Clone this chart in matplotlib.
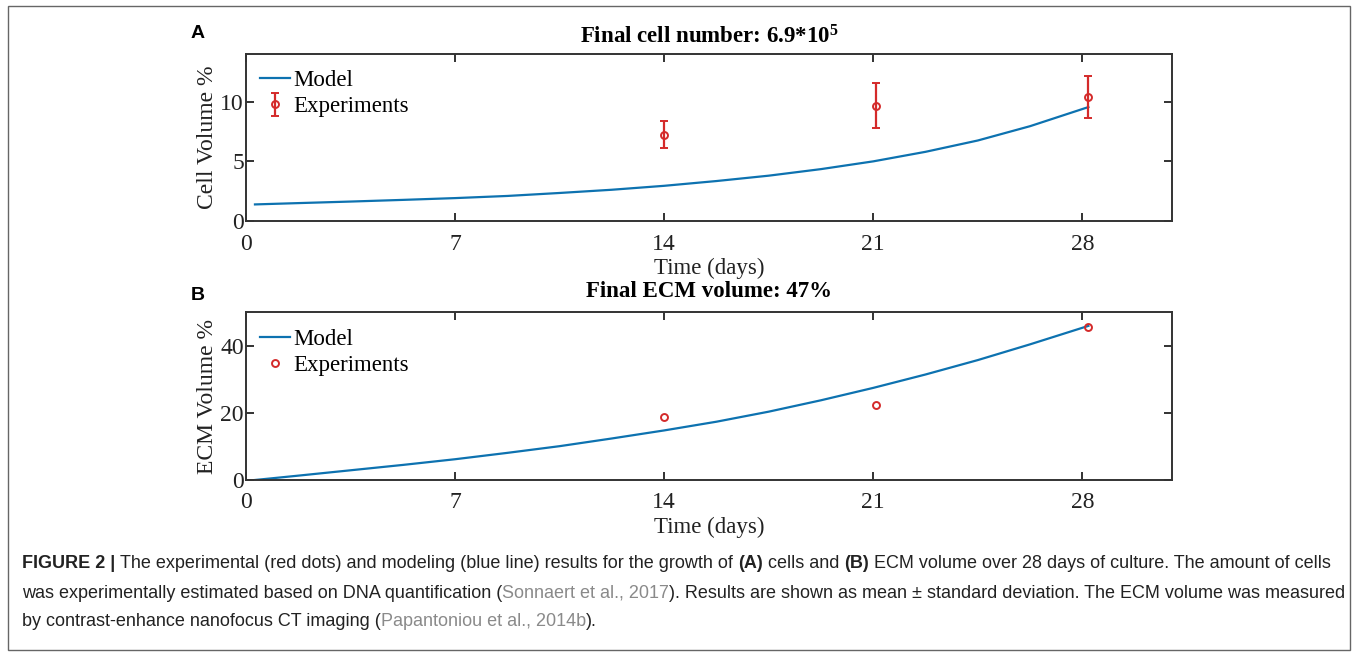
import matplotlib
matplotlib.use("Agg")
import matplotlib.pyplot as plt
from matplotlib.patches import Rectangle

# ---------------- data ----------------
model_days = [0.3, 1.75, 3.5, 5.25, 7, 8.75, 10.5, 12.25, 14, 15.75, 17.5, 19.25, 21, 22.75, 24.5, 26.25, 28.2]
cell_model = [1.39, 1.50, 1.63, 1.77, 1.92, 2.10, 2.35, 2.62, 2.95, 3.35, 3.80, 4.35, 5.00, 5.80, 6.75, 7.95, 9.55]
ecm_model = [0.0, 1.3, 2.9, 4.5, 6.2, 8.1, 10.1, 12.4, 14.8, 17.4, 20.4, 23.8, 27.5, 31.5, 35.8, 40.5, 46.0]

exp_days = [14.0, 21.1, 28.2]
cell_exp = [7.24, 9.64, 10.42]
cell_err_low = [6.10, 7.80, 8.66]
cell_err_high = [8.38, 11.56, 12.14]
ecm_exp = [18.8, 22.4, 45.6]

x_ticks = [0, 7, 14, 21, 28]
cell_yticks = [0, 5, 10]
ecm_yticks = [0, 20, 40]

title_a = r"Final cell number: 6.9*10$^{\mathbf{5}}$"
title_b = "Final ECM volume: 47%"

# ---------------- style ----------------
plt.rcParams.update({
    "font.family": ["Liberation Serif", "DejaVu Serif"],
    "mathtext.fontset": "custom",
    "mathtext.rm": "Liberation Serif",
    "mathtext.bf": "Liberation Serif:bold",
    "mathtext.it": "Liberation Serif:italic",
})

W, H = 1358, 656
fig = plt.figure(figsize=(W / 100, H / 100), dpi=100)

blue = "#0d72b0"
red = "#d42a2a"
spine_c = "#333333"
txt_c = "#222222"


def fx(px):
    return px / W


def fy(py):
    return 1 - py / H


left, right = 246, 1172
ax_w = right - left


def style_axes(ax, yticks, ylim):
    ax.set_xlim(0, 31)
    ax.set_ylim(*ylim)
    ax.set_xticks(x_ticks)
    ax.set_yticks(yticks)
    ax.tick_params(direction="in", length=6, width=1.3, top=True, right=True,
                   labelsize=17, colors=txt_c)
    ax.tick_params(axis="x", pad=9)
    ax.tick_params(axis="y", pad=1.5)
    for s in ax.spines.values():
        s.set_linewidth(1.4)
        s.set_color(spine_c)
    ax.set_xlabel("Time (days)", fontsize=16.5, color=txt_c, labelpad=2.5)


def add_legend(ax, handles, ax_h):
    ax.legend(handles=handles, loc="upper left", frameon=False, fontsize=16.5,
              handlelength=1.3, handletextpad=0.17, borderaxespad=0,
              borderpad=0, labelspacing=0.22,
              bbox_to_anchor=(14 / ax_w, 1 - 16 / ax_h))


# Panel A
a_top, a_bot = 54, 221
axA = fig.add_axes([fx(left), fy(a_bot), fx(ax_w), (a_bot - a_top) / H])
lineA, = axA.plot(model_days, cell_model, color=blue, lw=1.6, label="Model")
yerr = [[c - l for c, l in zip(cell_exp, cell_err_low)],
        [h - c for c, h in zip(cell_exp, cell_err_high)]]
ebA = axA.errorbar(exp_days, cell_exp, yerr=yerr, fmt="o", color=red, ms=5,
                   mfc="none", mew=1.4, elinewidth=1.6, capsize=3, capthick=1.4,
                   label="Experiments")
style_axes(axA, cell_yticks, (0, 14))
axA.set_ylabel("Cell Volume %", fontsize=17, color=txt_c, labelpad=2)
axA.set_title(title_a, fontsize=16.5, fontweight="bold", pad=7.5)
add_legend(axA, [lineA, ebA], a_bot - a_top)

# Panel B
b_top, b_bot = 312.5, 480
axB = fig.add_axes([fx(left), fy(b_bot), fx(ax_w), (b_bot - b_top) / H])
lineB, = axB.plot(model_days, ecm_model, color=blue, lw=1.6, label="Model")
ptsB, = axB.plot(exp_days, ecm_exp, "o", color=red, ms=5, mfc="none", mew=1.4,
                 label="Experiments")
style_axes(axB, ecm_yticks, (0, 50))
axB.set_ylabel("ECM Volume %", fontsize=17, color=txt_c, labelpad=2)
axB.set_title(title_b, fontsize=16.5, fontweight="bold", pad=11.5)
add_legend(axB, [lineB, ptsB], b_bot - b_top)

# Panel letters
fig.text(fx(191), fy(33), "A", family="Liberation Sans", fontweight="bold",
         fontsize=14, va="center", ha="left")
fig.text(fx(191), fy(295), "B", family="Liberation Sans", fontweight="bold",
         fontsize=14, va="center", ha="left")

# Border frame
fig.patches.append(Rectangle((fx(8), fy(650)), fx(1350 - 8), (650 - 6) / H,
                             transform=fig.transFigure, fill=False,
                             edgecolor="#666666", lw=1.0))

# Caption with mixed styles
renderer = fig.canvas.get_renderer()
cap_fs = 13.0
gray = "#8a8a8a"
N = {"family": "Liberation Sans", "fontsize": cap_fs, "color": "#222222"}
Bd = dict(N, fontweight="bold")
Gr = dict(N, color=gray)

caption_lines = [
    [("FIGURE 2 |", Bd), ("The experimental (red dots) and modeling (blue line) results for the growth of", N),
     ("(A)", Bd), ("cells and", N), ("(B)", Bd),
     ("ECM volume over 28 days of culture. The amount of cells", N)],
    [("was experimentally estimated based on DNA quantification (", N), ("Sonnaert et al., 2017", Gr),
     ("). Results are shown as mean \u00b1 standard deviation. The ECM volume was measured", N)],
    [("by contrast-enhance nanofocus CT imaging (", N), ("Papantoniou et al., 2014b", Gr), (").", N)],
]
space_after = [
    [True, True, True, True, True, False],
    [False, False, False],
    [False, False, False],
]
cap_y = [563, 593, 621]

tmp = fig.text(0, 0, "a a", **N)
w1 = tmp.get_window_extent(renderer).width
tmp.set_text("aa")
w2 = tmp.get_window_extent(renderer).width
tmp.remove()
space_w = w1 - w2

for line, sp, yy in zip(caption_lines, space_after, cap_y):
    xpix = 22
    for (txt, props), s in zip(line, sp):
        t = fig.text(fx(xpix), fy(yy), txt, va="center", ha="left", **props)
        xpix += t.get_window_extent(renderer).width
        if s:
            xpix += space_w

fig.savefig("out.png", dpi=100)
